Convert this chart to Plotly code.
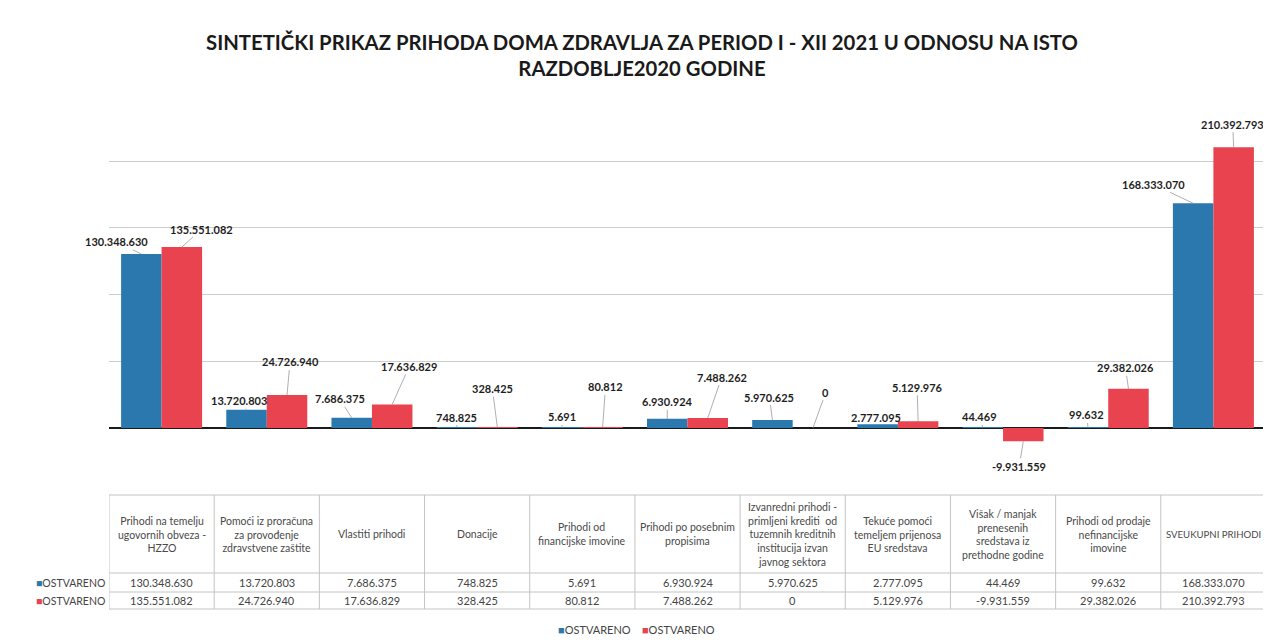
import plotly.graph_objects as go

# ---------------- data ----------------
categories = [
    "Prihodi na temelju ugovornih obveza - HZZO",
    "Pomoći iz proračuna za provođenje zdravstvene zaštite",
    "Vlastiti prihodi",
    "Donacije",
    "Prihodi od financijske imovine",
    "Prihodi po posebnim propisima",
    "Izvanredni prihodi - primljeni krediti od tuzemnih kreditnih institucija izvan javnog sektora",
    "Tekuće pomoći temeljem prijenosa EU sredstava",
    "Višak / manjak prenesenih sredstava iz prethodne godine",
    "Prihodi od prodaje nefinancijske imovine",
    "SVEUKUPNI PRIHODI",
]
header_labels = [
    "Prihodi na temelju<br>ugovornih obveza -<br>HZZO",
    "Pomoći iz proračuna<br>za provođenje<br>zdravstvene zaštite",
    "Vlastiti prihodi",
    "Donacije",
    "Prihodi od<br>financijske imovine",
    "Prihodi po posebnim<br>propisima",
    "Izvanredni prihodi -<br>primljeni krediti  od<br>tuzemnih kreditnih<br>institucija izvan<br>javnog sektora",
    "Tekuće pomoći<br>temeljem prijenosa<br>EU sredstava",
    "Višak / manjak<br>prenesenih<br>sredstava iz<br>prethodne godine",
    "Prihodi od prodaje<br>nefinancijske<br>imovine",
    "SVEUKUPNI PRIHODI",
]
series_names = ["OSTVARENO", "OSTVARENO"]
values_2020 = [130348630, 13720803, 7686375, 748825, 5691, 6930924,
               5970625, 2777095, 44469, 99632, 168333070]
values_2021 = [135551082, 24726940, 17636829, 328425, 80812, 7488262,
               0, 5129976, -9931559, 29382026, 210392793]

title_text = ("SINTETIČKI PRIKAZ PRIHODA DOMA ZDRAVLJA ZA PERIOD I - XII 2021 U ODNOSU NA ISTO"
              "<br>RAZDOBLJE2020 GODINE")

# ---------------- styling / layout helpers ----------------
OFF = 8                      # page body margin
W, H = 1271, 642 - OFF
BLUE = "#2b78ae"
RED = "#e8434f"
FONT = "Lato"

# label offsets (pixels) for data labels (Excel-style leader lines)
offs_a = [(-25, -12), (-8, -9), (-12, -19), (0, -10), (0, -11), (0, -17),
          (-3, -23), (-2, -7), (-3, -11), (-1, -13), (-40, -19)]
offs_b = [(20, -18), (3, -33), (17, -38), (-5, -39), (3, -41), (14, -41),
          (13, -36), (-1, -34), (-4, 25), (-3, -21), (-1, -23)]

def fx(px):  # page pixel from left -> paper fraction
    return (px - OFF) / W

def fy(px):  # page pixel from top -> paper fraction
    return (H - (px - OFF)) / H

def fmt(v):
    return f"{v:,}".replace(",", ".")

x_left, x_right = 109, 1266
plot_top, plot_bot, zero_px = 100, 460, 428
px_per_unit = 1.335e-6
y_min = -(plot_bot - zero_px) / px_per_unit
y_max = (zero_px - plot_top) / px_per_unit

tab_top, tab_head, tab_r1, tab_r2 = 495, 573, 592, 609

bargap = 0.23
half = (1 - bargap) / 4

fig = go.Figure()
fig.add_trace(go.Bar(x=categories, y=values_2020, name=series_names[0],
                     marker=dict(color=BLUE, line=dict(width=0))))
fig.add_trace(go.Bar(x=categories, y=values_2021, name=series_names[1],
                     marker=dict(color=RED, line=dict(width=0))))

annotations = []
# data labels
for vals, offs, sgn in ((values_2020, offs_a, -1), (values_2021, offs_b, 1)):
    for k, v in enumerate(vals):
        ax, ay = offs[k]
        annotations.append(dict(
            x=k + sgn * half, y=v, xref="x", yref="y",
            text=f"<b>{fmt(v)}</b>", showarrow=True, arrowhead=0,
            arrowwidth=0.7, arrowcolor="#8c8c8c", ax=ax, ay=ay,
            standoff=0, font=dict(family=FONT, size=11, color="#1e1e1e")))

# table header and values
val_font = dict(family=FONT, size=11, color="#444")
for k in range(len(categories)):
    hsize = 9.6 if header_labels[k].isupper() else 10.5
    annotations.append(dict(x=k, y=fy((tab_top + tab_head) / 2), xref="x", yref="paper",
                            text=header_labels[k], showarrow=False,
                            yanchor="middle", align="center",
                            font=dict(family=FONT, size=hsize, color="#4a4a4a")))
    annotations.append(dict(x=k, y=fy((tab_head + tab_r1) / 2), xref="x", yref="paper",
                            text=fmt(values_2020[k]), showarrow=False,
                            yanchor="middle", font=val_font))
    annotations.append(dict(x=k, y=fy((tab_r1 + tab_r2) / 2), xref="x", yref="paper",
                            text=fmt(values_2021[k]), showarrow=False,
                            yanchor="middle", font=val_font))
# row labels
for name, col, ypx in ((series_names[0], BLUE, (tab_head + tab_r1) / 2),
                       (series_names[1], RED, (tab_r1 + tab_r2) / 2)):
    annotations.append(dict(x=fx(x_left - 2), y=fy(ypx), xref="paper", yref="paper",
                            xanchor="right", yanchor="middle", showarrow=False,
                            text=f"<span style='color:{col}'>■</span>{name}",
                            font=dict(family=FONT, size=10.5, color="#444")))
# legend (as in the reference: small squares with tight text)
annotations.append(dict(
    x=fx(636), y=fy(629), xref="paper", yref="paper", xanchor="center",
    yanchor="middle", showarrow=False,
    text=(f"<span style='color:{BLUE}'>■</span>{series_names[0]}    "
          f"<span style='color:{RED}'>■</span>{series_names[1]}"),
    font=dict(family=FONT, size=11, color="#444")))

# table grid lines
shapes = []
grid_col = "#c4c4c4"
for ypx in (tab_top, tab_head, tab_r1, tab_r2):
    shapes.append(dict(type="line", xref="x", yref="paper", x0=-0.5, x1=len(categories) - 0.5,
                       y0=fy(ypx), y1=fy(ypx), line=dict(color=grid_col, width=1)))
for k in range(len(categories) + 1):
    shapes.append(dict(type="line", xref="x", yref="paper", x0=k - 0.5, x1=k - 0.5,
                       y0=fy(tab_top), y1=fy(tab_r2), line=dict(color=grid_col, width=1)))

fig.update_layout(
    width=W, height=H,
    margin=dict(l=0, r=0, t=0, b=0),
    paper_bgcolor="white", plot_bgcolor="white",
    barmode="group", bargap=bargap, bargroupgap=0,
    title=dict(text=f"<b>{title_text}</b>", x=fx(642), xanchor="center",
               y=fy(50), yanchor="middle", yref="container",
               font=dict(family=FONT, size=20.3, color="#1a1a1a")),
    xaxis=dict(domain=[fx(x_left), fx(x_right)], showticklabels=False,
               showgrid=False, zeroline=False, showline=False,
               range=[-0.5, len(categories) - 0.5], fixedrange=True),
    yaxis=dict(domain=[fy(plot_bot), fy(plot_top)], range=[y_min, y_max],
               showticklabels=False, showgrid=True, gridcolor="#cdcdcd",
               gridwidth=1, tick0=0, dtick=50e6, zeroline=True,
               zerolinecolor="#1a1a1a", zerolinewidth=2, showline=False),
    showlegend=False,
    annotations=annotations,
    shapes=shapes,
)

fig.write_html("out.html")
